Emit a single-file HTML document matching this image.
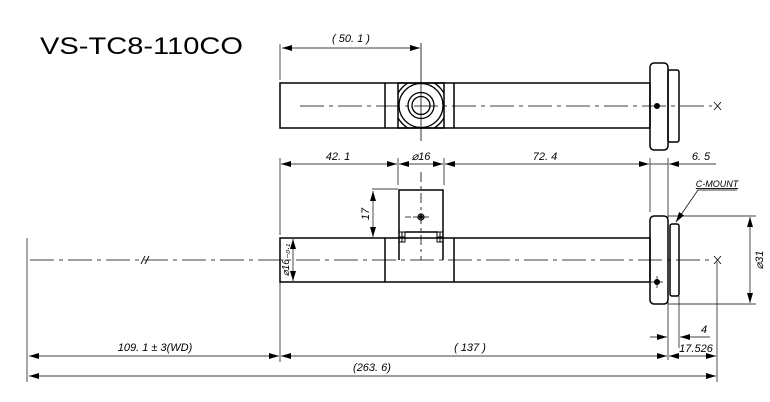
<!DOCTYPE html>
<html><head><meta charset="utf-8"><style>html,body{margin:0;padding:0;background:#fff}svg{display:block}</style></head><body>
<svg width="770" height="402" viewBox="0 0 770 402" xmlns="http://www.w3.org/2000/svg" font-family="Liberation Sans, sans-serif">
<defs>
<marker id="a" viewBox="0 0 10 6" refX="10" refY="3" markerWidth="10" markerHeight="6" orient="auto-start-reverse" markerUnits="userSpaceOnUse"><path d="M0,0 L10,3 L0,6 z" fill="#000"/></marker>
</defs>
<text x="40" y="54" font-size="24" textLength="203" lengthAdjust="spacingAndGlyphs">VS-TC8-110CO</text>
<g stroke="#000" fill="none">
<g stroke-width="1.5">
<rect x="280" y="83" width="370" height="45"/>
<line x1="385" y1="83" x2="385" y2="128"/><line x1="454" y1="83" x2="454" y2="128"/>
<rect x="398" y="83" width="46" height="45"/>
<rect x="650" y="63" width="18" height="87" rx="4"/>
<rect x="668" y="70" width="11" height="72" rx="2"/>
</g>
<clipPath id="sq"><rect x="398" y="83" width="46" height="45"/></clipPath>
<g stroke-width="1.3" clip-path="url(#sq)"><circle cx="421" cy="105.5" r="26"/><circle cx="421" cy="105.5" r="22"/></g>
<circle cx="421" cy="105.5" r="13" stroke-width="1.3"/><circle cx="421" cy="105.5" r="9" stroke-width="1.3"/>
<circle cx="657" cy="106" r="2.5" fill="#000"/>
<line x1="300" y1="106" x2="712" y2="106" stroke-width="0.8" stroke-dasharray="24,5,4,5"/>
<path d="M714,102 l7,8 M714,110 l7,-8" stroke-width="0.8"/>
<line x1="421" y1="43" x2="421" y2="141" stroke-width="0.8"/>
<line x1="280" y1="44" x2="280" y2="80" stroke-width="0.7"/>
<line x1="282" y1="48" x2="420" y2="48" stroke-width="0.7" marker-start="url(#a)" marker-end="url(#a)"/>
<g stroke-width="0.7">
<line x1="280" y1="158" x2="280" y2="235"/><line x1="398" y1="158" x2="398" y2="185"/><line x1="444" y1="158" x2="444" y2="185"/>
<line x1="650" y1="158" x2="650" y2="212"/><line x1="668" y1="158" x2="668" y2="360"/>
<line x1="281" y1="164" x2="397" y2="164" marker-start="url(#a)" marker-end="url(#a)"/>
<line x1="399" y1="164" x2="443" y2="164" marker-start="url(#a)" marker-end="url(#a)"/>
<line x1="445" y1="164" x2="649" y2="164" marker-start="url(#a)" marker-end="url(#a)"/>
<line x1="650" y1="164" x2="668" y2="164"/>
<line x1="669" y1="164" x2="690" y2="164" marker-start="url(#a)"/><line x1="690" y1="164" x2="716" y2="164"/>
</g>
<g stroke-width="1.5">
<rect x="280" y="238" width="370" height="44"/>
<line x1="385" y1="238" x2="385" y2="282"/><line x1="454" y1="238" x2="454" y2="282"/>
<path d="M399,260 V190 H443 V260"/>
<line x1="405" y1="232" x2="438" y2="232"/>
<rect x="650" y="216" width="18" height="88" rx="4"/>
<rect x="670" y="224" width="9" height="72" rx="2"/>
</g>
<g stroke-width="1"><rect x="399" y="232" width="6" height="10"/><rect x="437" y="232" width="6" height="10"/>
<path d="M399,237h6M402,232v10M437,237h6M440,232v10"/></g>
<circle cx="421" cy="217" r="3" stroke-width="1.2"/><circle cx="421" cy="217" r="1.5" fill="#000"/>
<path d="M405,217h6M413,217h16" stroke-width="0.8"/>
<line x1="421" y1="172" x2="421" y2="260" stroke-width="0.8" stroke-dasharray="10,4,3,4"/>
<circle cx="657" cy="282" r="2.5" fill="#000"/><path d="M651,282h12M657,276v12" stroke-width="0.7"/>
<line x1="30" y1="260" x2="712" y2="260" stroke-width="0.8" stroke-dasharray="24,5,4,5"/>
<path d="M141,264 l4,-8 M145,264 l4,-8" stroke-width="0.9"/>
<path d="M714,256 l7,8 M714,264 l7,-8" stroke-width="0.8"/>
<g stroke-width="0.7">
<line x1="372" y1="189" x2="398" y2="189"/>
<line x1="373" y1="191" x2="373" y2="237" marker-start="url(#a)" marker-end="url(#a)"/>
<line x1="293" y1="239" x2="293" y2="281" marker-start="url(#a)" marker-end="url(#a)"/>
<line x1="668" y1="216" x2="756" y2="216"/><line x1="668" y1="304" x2="756" y2="304"/>
<line x1="750" y1="217" x2="750" y2="303" marker-start="url(#a)" marker-end="url(#a)"/>
<path d="M737,190 H698 L676,222" /><line x1="682" y1="213" x2="676" y2="222" marker-end="url(#a)"/>
<line x1="717" y1="262" x2="717" y2="382"/>
<line x1="27" y1="238" x2="27" y2="382"/>
<line x1="280" y1="282" x2="280" y2="362"/>
<line x1="679" y1="296" x2="679" y2="348"/>
<line x1="650" y1="337" x2="667" y2="337" marker-end="url(#a)"/>
<line x1="680" y1="337" x2="710" y2="337" marker-start="url(#a)"/>
<line x1="29" y1="356" x2="279" y2="356" marker-start="url(#a)" marker-end="url(#a)"/>
<line x1="281" y1="356" x2="667" y2="356" marker-start="url(#a)" marker-end="url(#a)"/>
<line x1="669" y1="356" x2="716" y2="356" marker-start="url(#a)" marker-end="url(#a)"/>
<line x1="29" y1="376" x2="716" y2="376" marker-start="url(#a)" marker-end="url(#a)"/>
</g>
</g>
<g font-size="11" font-style="italic" fill="#000" text-anchor="middle">
<text x="351" y="42">( 50. 1 )</text>
<text x="338" y="160">42. 1</text>
<text x="421" y="160">⌀16</text>
<text x="545" y="160">72. 4</text>
<text x="701" y="160">6. 5</text>
<text x="717" y="187" font-size="9" text-decoration="underline">C-MOUNT</text>
<text x="0" y="0" transform="translate(369,214) rotate(-90)">17</text>
<text x="0" y="0" font-size="10" transform="translate(289,260) rotate(-90)">⌀16₋₀.₁</text>
<text x="0" y="0" transform="translate(763,260) rotate(-90)">⌀31</text>
<text x="704" y="333">4</text>
<text x="696" y="352">17.526</text>
<text x="155" y="351">109. 1 ± 3(WD)</text>
<text x="470" y="351">( 137 )</text>
<text x="372" y="371">(263. 6)</text>
</g>
</svg>
</body></html>
